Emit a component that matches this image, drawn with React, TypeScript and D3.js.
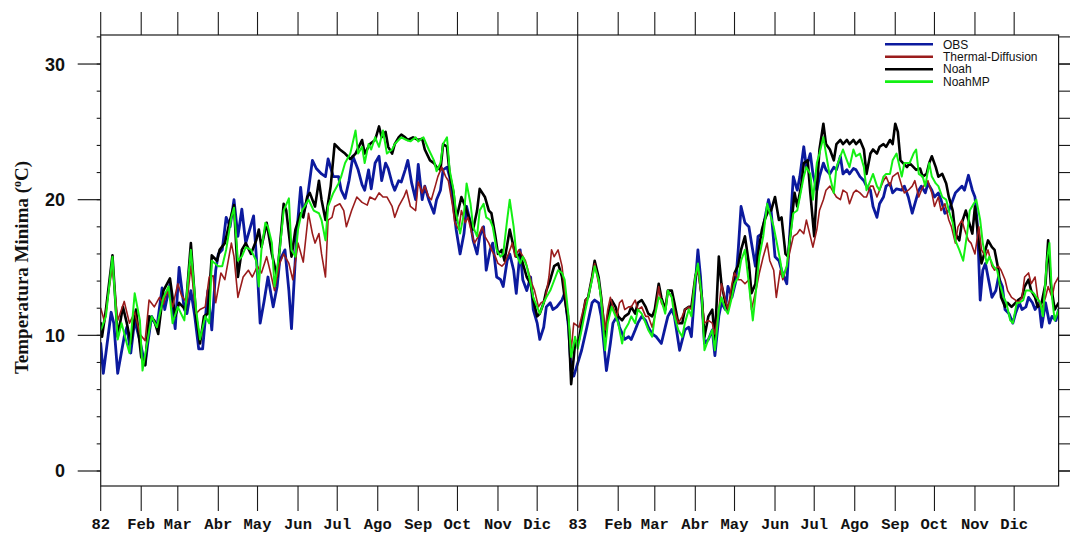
import React from "react";
import * as d3 from "d3";

type Pt = [number, number];

// day index (0 = 1 Jan 1982) , minimum temperature (°C)
const obs: Pt[] = [[0,9.4],[2,7.2],[8,11.7],[10,10.9],[13,7.2],[18,9.9],[20,10.6],[23,8.7],[26,11.1],[30,9.6],[34,7.8],[36,9.4],[39,11.4],[43,10.6],[47,13.5],[49,11.9],[53,13.8],[57,10.5],[60,15.0],[64,11.9],[66,11.6],[69,13.3],[72,11.4],[75,9.0],[78,9.0],[82,13.3],[85,10.4],[88,14.8],[90,16.0],[93,16.3],[96,18.7],[99,18.0],[102,20.0],[105,17.3],[108,19.3],[111,16.8],[117,18.8],[120,14.5],[122,10.9],[125,12.5],[128,14.3],[132,12.1],[135,13.6],[137,15.5],[141,16.3],[144,13.3],[146,10.5],[150,17.5],[153,20.9],[155,19.0],[158,20.0],[162,22.9],[165,22.3],[169,21.9],[172,21.7],[174,23.0],[178,21.7],[182,21.7],[184,20.7],[187,20.1],[190,21.4],[193,23.2],[197,22.2],[200,21.1],[202,20.7],[205,22.2],[207,20.8],[210,22.7],[213,23.2],[215,21.4],[218,22.7],[220,22.3],[223,21.2],[225,20.7],[228,21.4],[230,21.3],[233,22.2],[235,22.9],[238,21.2],[241,20.0],[243,22.6],[246,20.0],[248,21.0],[251,20.0],[255,19.0],[257,20.0],[260,20.7],[262,22.2],[265,22.4],[267,21.7],[270,19.5],[272,17.8],[275,16.0],[278,17.5],[280,19.5],[283,18.3],[285,17.0],[288,16.0],[290,17.3],[293,18.0],[295,14.8],[298,16.3],[300,16.8],[303,14.3],[306,14.1],[308,13.6],[311,15.5],[313,16.0],[316,14.8],[318,13.1],[321,16.3],[323,14.1],[326,13.3],[329,14.3],[331,11.9],[334,10.9],[336,9.7],[339,10.6],[341,12.1],[344,12.4],[346,11.9],[349,12.1],[353,12.6],[355,13.1],[358,10.6],[360,7.4],[362,7.0],[368,8.9],[372,10.6],[376,12.4],[378,12.6],[381,12.4],[383,11.4],[387,7.4],[390,9.4],[392,10.9],[395,11.4],[397,10.6],[401,9.7],[404,9.9],[406,9.7],[409,10.4],[411,10.9],[414,11.4],[417,11.1],[419,10.6],[422,10.1],[425,9.9],[429,9.4],[432,10.6],[434,11.4],[437,11.9],[439,11.4],[443,8.9],[447,10.4],[450,10.6],[452,9.9],[455,13.8],[457,16.3],[459,14.3],[462,9.4],[465,9.7],[468,10.4],[470,8.5],[473,11.4],[475,12.4],[478,11.9],[480,13.6],[483,12.8],[486,14.0],[488,16.5],[490,19.5],[493,18.3],[496,18.0],[498,16.8],[501,15.1],[503,17.3],[506,17.5],[508,18.5],[511,20.0],[513,19.2],[516,15.8],[519,15.5],[521,14.8],[525,13.8],[527,17.0],[530,21.7],[533,20.7],[535,21.7],[538,23.9],[540,22.4],[543,23.4],[545,21.9],[548,20.7],[550,21.7],[553,22.7],[555,22.2],[558,21.9],[561,22.4],[563,22.2],[566,23.2],[568,21.9],[571,22.2],[573,21.9],[576,22.3],[578,22.2],[581,21.7],[584,21.4],[586,21.0],[589,20.7],[591,19.5],[594,18.7],[596,19.7],[599,20.2],[601,21.0],[604,21.2],[606,20.5],[609,20.8],[613,20.7],[615,21.0],[618,20.2],[621,19.0],[623,19.7],[626,20.7],[628,21.0],[631,20.5],[633,21.2],[636,20.7],[638,20.2],[641,20.5],[643,20.0],[646,19.0],[649,19.2],[651,19.7],[654,20.5],[656,20.7],[659,21.0],[661,20.7],[664,21.8],[667,20.7],[669,20.2],[671,18.0],[673,12.6],[675,14.8],[677,15.3],[680,13.8],[682,12.8],[685,13.3],[687,14.3],[690,13.6],[692,11.9],[695,11.6],[698,10.9],[700,11.6],[703,12.4],[705,11.9],[708,12.1],[710,12.8],[713,12.4],[715,11.9],[718,12.4],[720,10.6],[723,12.4],[726,10.9],[728,11.4],[731,11.1],[733,11.9]];

const thermal: Pt[] = [[0,12.0],[3,11.0],[5,12.5],[9,15.1],[13,11.1],[18,12.5],[22,10.9],[26,11.7],[30,10.1],[34,9.6],[37,12.6],[41,12.1],[45,12.8],[48,12.3],[51,13.3],[55,12.1],[59,13.8],[62,12.9],[66,12.4],[69,15.1],[73,11.6],[76,11.9],[80,12.1],[83,14.3],[86,14.4],[88,12.4],[92,14.6],[95,14.1],[100,16.8],[102,15.8],[105,12.8],[109,14.3],[113,14.8],[116,14.3],[120,15.1],[123,14.6],[127,15.8],[130,14.6],[133,13.3],[137,15.3],[140,16.0],[144,15.3],[147,14.1],[151,16.8],[155,15.4],[159,19.0],[162,17.5],[164,16.8],[167,17.5],[169,16.0],[172,14.3],[174,18.5],[177,18.7],[179,19.5],[183,19.7],[186,19.2],[188,18.0],[192,19.2],[196,20.2],[200,19.8],[204,19.6],[206,20.2],[210,20.0],[213,20.5],[216,20.2],[219,20.2],[223,19.5],[225,18.7],[228,19.5],[232,20.2],[234,20.7],[237,19.5],[241,19.2],[243,21.3],[246,20.5],[248,21.0],[251,20.2],[253,20.0],[256,21.0],[258,21.7],[261,22.4],[264,21.7],[266,21.4],[269,19.7],[271,18.3],[274,17.8],[276,19.2],[279,18.3],[281,18.7],[284,17.5],[286,16.8],[289,17.3],[292,18.0],[294,17.3],[297,16.8],[299,16.3],[302,15.8],[304,15.3],[307,15.1],[309,15.3],[312,16.0],[315,16.8],[317,15.8],[320,16.3],[322,16.0],[325,15.5],[327,14.8],[330,13.8],[332,13.3],[335,12.1],[337,12.4],[340,12.6],[343,14.3],[345,16.3],[347,15.8],[350,16.3],[353,15.1],[355,13.3],[358,11.4],[360,8.9],[362,10.9],[366,10.6],[368,11.4],[371,12.6],[373,12.8],[376,14.3],[378,15.3],[381,13.8],[383,12.8],[386,10.4],[388,11.9],[390,12.8],[392,12.1],[395,11.4],[397,12.4],[399,12.6],[401,11.9],[404,12.1],[406,12.1],[409,12.6],[411,11.9],[414,12.1],[417,11.4],[419,11.4],[422,10.6],[424,11.4],[427,13.6],[429,12.4],[432,11.9],[434,13.3],[437,12.8],[439,11.9],[442,10.9],[445,11.4],[447,11.9],[450,12.1],[452,11.9],[455,14.3],[457,14.8],[460,12.6],[462,10.9],[465,11.1],[468,10.9],[470,10.1],[473,11.9],[475,13.8],[478,12.6],[480,11.9],[483,13.8],[485,14.6],[488,14.1],[490,14.1],[493,13.8],[496,14.1],[498,11.9],[502,13.6],[504,14.6],[507,15.8],[510,16.8],[512,15.5],[515,14.8],[517,12.8],[520,14.8],[522,14.1],[525,15.1],[527,16.0],[530,17.3],[533,17.5],[535,17.8],[538,17.5],[540,18.5],[543,17.3],[545,16.5],[548,17.8],[550,19.2],[553,20.0],[555,20.7],[558,21.0],[561,20.5],[563,20.2],[566,20.0],[568,20.7],[571,20.5],[573,19.7],[576,20.5],[578,20.7],[581,20.5],[584,20.2],[586,20.2],[589,21.0],[591,21.0],[594,20.2],[596,20.7],[599,21.4],[601,21.7],[604,21.0],[606,21.7],[610,22.0],[613,21.0],[615,20.5],[618,20.7],[621,21.0],[623,21.4],[626,20.2],[628,20.7],[631,21.2],[633,21.4],[636,20.5],[638,19.5],[641,20.2],[643,19.2],[646,19.7],[649,18.5],[651,18.0],[654,16.8],[656,18.0],[659,18.5],[661,17.8],[664,17.0],[666,16.8],[669,16.0],[672,18.0],[674,16.3],[677,15.8],[679,16.3],[682,15.1],[684,14.8],[687,15.1],[689,14.8],[692,14.1],[694,13.3],[697,12.8],[700,12.6],[702,12.4],[705,12.8],[707,14.3],[710,14.6],[712,13.8],[715,14.3],[717,12.8],[720,11.9],[723,12.8],[725,13.6],[728,12.8],[730,13.8],[733,14.3]];

const noah: Pt[] = [[0,10.9],[1,9.9],[4,11.9],[9,15.9],[13,9.9],[17,12.1],[20,10.9],[23,9.4],[27,11.9],[31,8.4],[34,7.8],[37,11.4],[41,11.1],[44,10.1],[48,13.3],[53,14.2],[57,11.4],[60,12.4],[65,11.9],[69,16.8],[73,11.4],[76,9.4],[79,11.4],[82,11.6],[85,15.9],[89,15.5],[91,16.3],[95,16.8],[99,18.5],[102,19.6],[105,14.3],[108,16.3],[111,16.8],[115,16.0],[119,17.0],[121,17.8],[123,16.5],[127,18.3],[131,16.0],[135,14.3],[140,19.7],[142,19.2],[146,15.8],[149,17.8],[153,19.0],[155,18.7],[158,20.2],[160,20.5],[164,19.5],[167,21.4],[169,20.0],[172,18.5],[176,21.0],[179,24.1],[183,23.7],[187,23.4],[191,23.0],[195,23.4],[200,24.4],[202,23.4],[206,24.1],[210,24.4],[213,25.4],[215,24.6],[218,25.0],[220,23.9],[223,23.4],[225,24.1],[228,24.6],[230,24.8],[233,24.6],[235,24.4],[239,24.6],[243,24.4],[246,24.5],[248,23.7],[252,22.9],[255,22.7],[257,22.4],[260,22.2],[262,24.1],[265,23.9],[267,21.9],[270,20.5],[272,18.5],[276,20.2],[279,19.5],[283,18.3],[285,17.8],[288,19.2],[290,20.8],[294,20.2],[297,19.2],[299,19.0],[302,17.3],[304,16.0],[307,16.3],[309,15.5],[313,17.8],[316,16.5],[318,15.8],[321,16.0],[323,15.3],[326,14.3],[329,13.8],[331,12.6],[334,11.4],[336,11.6],[339,12.4],[341,13.3],[344,14.1],[347,15.1],[350,15.3],[353,14.3],[355,12.8],[358,10.9],[360,6.4],[363,9.4],[366,9.7],[368,10.9],[371,12.6],[373,12.8],[376,14.3],[378,15.5],[381,14.3],[383,12.8],[386,9.9],[388,11.4],[391,12.6],[394,12.1],[396,11.4],[399,11.1],[401,11.4],[404,11.6],[406,12.1],[409,11.6],[411,12.4],[414,12.6],[417,12.1],[419,11.6],[422,11.4],[424,11.9],[427,13.8],[429,12.8],[432,11.9],[434,13.3],[437,13.3],[439,12.4],[442,10.9],[445,10.9],[447,11.9],[450,12.1],[452,12.1],[455,14.3],[457,15.1],[460,12.8],[462,9.9],[465,11.4],[468,11.9],[470,9.7],[473,15.8],[475,13.8],[478,12.4],[480,11.9],[483,13.1],[485,14.6],[488,15.2],[490,16.3],[493,17.3],[496,15.3],[498,13.1],[501,13.8],[503,16.0],[506,17.8],[508,18.5],[511,19.2],[513,19.2],[516,20.2],[519,18.5],[521,18.7],[524,16.0],[526,15.8],[529,18.7],[531,20.5],[533,19.5],[536,21.0],[538,22.7],[541,22.9],[543,20.5],[546,17.3],[548,20.7],[550,23.7],[553,25.6],[555,24.1],[558,23.7],[561,22.9],[563,24.1],[566,24.4],[568,24.1],[571,24.4],[573,24.1],[576,24.4],[578,24.1],[581,24.4],[584,23.7],[586,21.9],[589,23.4],[591,23.7],[594,23.4],[596,23.9],[599,24.1],[601,23.9],[604,24.4],[606,24.1],[608,25.6],[610,25.0],[612,22.9],[614,22.7],[617,22.4],[619,22.7],[622,22.4],[624,22.2],[627,22.3],[629,21.7],[632,21.9],[634,22.7],[636,23.2],[639,22.4],[641,21.7],[644,21.9],[647,21.2],[649,20.2],[652,19.2],[654,17.5],[657,17.0],[659,18.3],[662,19.2],[664,18.5],[667,17.5],[669,19.5],[672,16.8],[674,15.3],[677,16.3],[679,17.0],[682,16.5],[684,16.3],[687,14.8],[689,12.8],[692,12.1],[694,12.4],[697,12.1],[700,12.4],[702,12.6],[705,12.8],[707,13.6],[710,14.1],[712,13.3],[715,12.8],[717,12.1],[720,12.4],[723,13.8],[725,17.0],[727,13.8],[730,11.9],[733,12.4]];

const noahMP: Pt[] = [[0,10.4],[1,10.6],[4,11.4],[9,15.8],[13,9.7],[16,10.9],[20,9.4],[22,8.7],[26,13.1],[30,11.1],[32,7.4],[36,9.7],[39,11.4],[43,10.6],[48,12.8],[52,13.6],[55,10.9],[59,12.1],[64,11.1],[69,16.3],[73,11.9],[76,9.7],[80,11.4],[83,10.9],[85,15.5],[90,15.1],[93,15.1],[96,16.3],[100,18.7],[102,19.4],[105,15.5],[108,15.8],[111,16.5],[115,16.3],[119,15.5],[121,13.6],[123,16.3],[126,18.3],[128,18.0],[131,16.8],[133,13.6],[137,16.3],[140,19.2],[144,20.1],[146,16.3],[149,15.8],[151,17.8],[154,19.2],[156,19.5],[159,20.0],[163,19.2],[167,19.0],[169,18.5],[172,17.0],[174,19.5],[178,20.5],[182,21.2],[184,21.7],[187,22.7],[191,23.4],[195,25.1],[197,23.4],[200,23.9],[202,22.7],[205,24.1],[207,23.7],[210,24.6],[213,23.9],[216,25.1],[219,23.4],[223,23.7],[225,24.1],[228,24.4],[230,24.6],[234,24.4],[237,24.3],[241,24.6],[243,24.3],[247,24.6],[251,23.7],[255,22.9],[257,22.1],[260,22.7],[262,24.1],[265,24.6],[267,22.2],[270,20.7],[272,19.0],[275,17.5],[278,19.0],[280,21.2],[283,19.7],[285,18.0],[288,17.3],[290,19.2],[293,19.7],[295,18.7],[298,18.5],[300,18.0],[303,16.3],[306,15.8],[308,16.0],[311,18.5],[313,20.0],[316,18.0],[318,16.0],[321,15.3],[323,15.8],[326,15.1],[329,13.8],[331,12.8],[334,12.1],[336,11.6],[339,12.4],[341,12.8],[344,13.3],[348,14.3],[350,14.8],[353,14.6],[355,14.1],[358,11.4],[360,8.4],[363,9.9],[365,9.0],[368,10.4],[371,11.9],[373,12.8],[376,14.1],[378,15.1],[381,14.1],[383,12.6],[386,8.9],[388,10.9],[391,12.1],[394,11.4],[396,10.9],[399,9.4],[401,10.4],[404,10.9],[406,11.4],[409,10.9],[411,11.9],[414,11.6],[417,10.9],[419,10.4],[422,9.9],[424,11.4],[427,12.8],[429,12.6],[432,11.6],[434,13.3],[437,12.8],[439,11.4],[442,10.4],[445,9.9],[447,10.9],[450,11.9],[452,11.4],[455,14.3],[457,15.3],[460,12.8],[462,8.9],[465,9.7],[468,10.4],[470,8.9],[473,11.9],[475,12.8],[478,11.9],[480,11.6],[483,12.8],[485,13.8],[488,14.3],[490,15.5],[493,16.3],[496,13.8],[499,11.1],[502,13.8],[504,15.8],[507,17.3],[510,19.7],[512,19.0],[515,18.0],[517,17.0],[520,15.5],[522,14.3],[525,15.1],[527,16.8],[530,19.0],[533,19.2],[535,20.2],[538,21.7],[540,22.4],[543,21.9],[545,20.0],[548,22.7],[550,23.4],[553,24.6],[555,23.4],[558,21.7],[561,20.5],[563,22.4],[566,23.2],[568,23.7],[571,22.9],[573,22.4],[576,23.7],[578,23.2],[581,23.4],[584,22.4],[586,20.7],[589,21.4],[591,21.9],[594,21.0],[596,20.7],[599,21.7],[601,21.9],[604,21.9],[606,22.9],[609,23.4],[613,21.7],[615,22.7],[619,22.7],[622,23.4],[624,23.7],[626,21.9],[629,21.7],[631,21.0],[634,22.7],[636,21.7],[639,21.2],[641,21.0],[644,20.2],[647,20.0],[649,19.2],[652,18.3],[654,17.0],[657,16.3],[660,15.5],[663,17.5],[665,19.2],[668,19.7],[670,20.0],[673,18.5],[675,16.8],[678,15.3],[680,15.8],[683,15.1],[686,14.8],[688,13.8],[691,12.8],[693,12.4],[696,11.1],[698,10.9],[701,12.4],[703,12.4],[706,12.6],[708,13.3],[711,13.3],[714,13.1],[716,12.8],[719,12.4],[721,11.4],[724,15.5],[726,16.8],[728,12.8],[730,11.1],[733,11.9]];

const monthStarts = [0, 31, 59, 90, 120, 151, 181, 212, 243, 273, 304, 334];
const monthLabels = ["Feb", "Mar", "Abr", "May", "Jun", "Jul", "Ago", "Sep", "Oct", "Nov", "Dic"];
const years = [{ label: "82", offset: 0 }, { label: "83", offset: 365 }];
const yMajorTicks = [0, 10, 20, 30];
const yMinorTicks = [0, 2, 4, 6, 8, 10, 12, 14, 16, 18, 20, 22, 24, 26, 28, 30, 32];

const seriesNames = ["OBS", "Thermal-Diffusion", "Noah", "NoahMP"];
const seriesColors = ["#0c1a9e", "#9a1c1c", "#000000", "#14f014"];
const seriesWidths = [2.8, 1.6, 2.6, 2.0];
const seriesData = [obs, thermal, noah, noahMP];
const drawOrder = [0, 2, 1, 3];

export default function App() {
  const W = 1070, H = 533;
  const left = 100.7, right = 1058.6, top = 35, bottom = 486;
  const x = d3.scaleLinear().domain([0, 733]).range([left, right]);
  const y = d3.scaleLinear().domain([-1.106, 32.14]).range([bottom, top]);
  const line = d3.line<Pt>().x(d => x(d[0])).y(d => y(d[1])).curve(d3.curveLinear);

  const xTicks: { day: number; label: string }[] = [];
  years.forEach(yr => {
    monthStarts.forEach((m, i) => {
      xTicks.push({ day: yr.offset + m, label: i === 0 ? yr.label : monthLabels[i - 1] });
    });
  });

  const axisColor = "#1a1a1a";

  return (
    <svg width={W} height={H} style={{ position: "absolute", left: 0, top: 0, background: "#fff" }}>
      <rect x={0} y={0} width={W} height={H} fill="#ffffff" />
      <defs>
        <clipPath id="plotclip">
          <rect x={left} y={top} width={right - left} height={bottom - top} />
        </clipPath>
      </defs>

      {/* series */}
      <g clipPath="url(#plotclip)">
        {drawOrder.map(i => (
          <path key={i} d={line(seriesData[i]) || ""} fill="none" stroke={seriesColors[i]}
            strokeWidth={seriesWidths[i]} strokeLinejoin="round" strokeLinecap="round" />
        ))}
      </g>

      {/* year separator */}
      <line x1={x(365)} x2={x(365)} y1={top} y2={bottom} stroke={axisColor} strokeWidth={1.1} />

      {/* frame */}
      <rect x={left} y={top} width={right - left} height={bottom - top} fill="none" stroke={axisColor} strokeWidth={1.2} />

      {/* x ticks top & bottom */}
      {xTicks.map((t, i) => (
        <g key={"xt" + i}>
          <line x1={x(t.day)} x2={x(t.day)} y1={top} y2={top - 23} stroke={axisColor} strokeWidth={1.1} />
          <line x1={x(t.day)} x2={x(t.day)} y1={bottom} y2={bottom + 25} stroke={axisColor} strokeWidth={1.1} />
          <text x={x(t.day)} y={529} textAnchor="middle" fontFamily="'Liberation Mono', 'Courier New', monospace"
            fontWeight="bold" fontSize={15.5} fill="#111">{t.label}</text>
        </g>
      ))}

      {/* y minor ticks */}
      {yMinorTicks.map(v => (
        <g key={"ym" + v}>
          <line x1={left} x2={left - 4} y1={y(v)} y2={y(v)} stroke={axisColor} strokeWidth={1.1} />
          <line x1={right} x2={right + 14} y1={y(v)} y2={y(v)} stroke={axisColor} strokeWidth={1.1} />
        </g>
      ))}
      {/* y major ticks */}
      {yMajorTicks.map(v => (
        <g key={"yM" + v}>
          <line x1={left} x2={left - 23} y1={y(v)} y2={y(v)} stroke={axisColor} strokeWidth={1.2} />
          <line x1={right} x2={right + 23} y1={y(v)} y2={y(v)} stroke={axisColor} strokeWidth={1.2} />
          <text x={65} y={y(v) + 6.5} textAnchor="end" fontFamily="'Liberation Sans', Arial, sans-serif"
            fontWeight="bold" fontSize={18} fill="#111">{v}</text>
        </g>
      ))}

      {/* y title */}
      <text transform={`translate(28, 267.5) rotate(-90)`} textAnchor="middle"
        fontFamily="'Liberation Serif', 'Times New Roman', serif" fontWeight="bold" fontSize={19} fill="#111">
        Temperatura Minima (<tspan fontSize={12} dy={-7}>o</tspan><tspan dy={7}>C)</tspan>
      </text>

      {/* legend */}
      {seriesNames.map((name, i) => {
        const ly = 44.3 + i * 12.45;
        return (
          <g key={"lg" + i}>
            <line x1={885} x2={933} y1={ly} y2={ly} stroke={seriesColors[i]} strokeWidth={2.6} />
            <text x={943} y={ly + 4.2} fontFamily="'Liberation Sans', Arial, sans-serif" fontSize={12} fill="#111">{name}</text>
          </g>
        );
      })}
    </svg>
  );
}
